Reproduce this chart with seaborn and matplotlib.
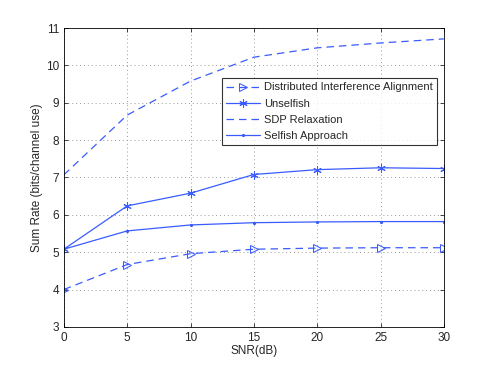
import matplotlib
matplotlib.use("Agg")
import matplotlib.pyplot as plt
import seaborn as sns
import pandas as pd

snr = [0, 5, 10, 15, 20, 25, 30]
dia = [4.00, 4.67, 4.96, 5.08, 5.11, 5.12, 5.12]
unselfish = [5.08, 6.24, 6.58, 7.08, 7.21, 7.26, 7.24]
sdp = [7.07, 8.67, 9.58, 10.22, 10.47, 10.60, 10.71]
selfish = [5.08, 5.57, 5.73, 5.79, 5.81, 5.82, 5.82]

labels = ["Distributed Interference Alignment", "Unselfish",
          "SDP Relaxation", "Selfish Approach"]

df = pd.DataFrame({"snr": snr, labels[0]: dia, labels[1]: unselfish,
                   labels[2]: sdp, labels[3]: selfish})

sns.set_style("white")
plt.rcParams["font.family"] = ["Liberation Sans", "DejaVu Sans"]

blue = "#3a5cff"
styles = {
    labels[0]: dict(linestyle=(0, (6, 4)), marker=">", markersize=6,
                    markerfacecolor="none", markeredgecolor=blue),
    labels[1]: dict(linestyle="-", marker=(6, 2, 0), markersize=6,
                    markeredgecolor=blue),
    labels[2]: dict(linestyle=(0, (6, 4)), marker=None),
    labels[3]: dict(linestyle="-", marker=".", markersize=3,
                    markeredgecolor=blue),
}

fig = plt.figure(figsize=(4.91, 3.69), dpi=100)
ax = fig.add_axes([0.130, 0.114, 0.774, 0.810])

for name in labels:
    sns.lineplot(data=df, x="snr", y=name, ax=ax, color=blue, linewidth=0.9,
                 label=name, **styles[name])

ax.set_xlim(0, 30)
ax.set_ylim(3, 11)
ax.set_xticks(range(0, 31, 5))
ax.set_yticks(range(3, 12))
ax.grid(True, linestyle=(0, (1, 3)), color="#999999", linewidth=0.7)
ax.tick_params(direction="in", length=3, labelsize=8.5, width=0.6,
               top=True, right=True, bottom=True, left=True)
for s in ax.spines.values():
    s.set_visible(True)
    s.set_color("black")
    s.set_linewidth(0.6)
ax.set_xlabel("SNR(dB)", fontsize=8.5, labelpad=1)
ax.set_ylabel("Sum Rate (bits/channel use)", fontsize=8.5, labelpad=2)

leg = ax.legend(loc="upper right", bbox_to_anchor=(0.983, 0.833),
                fontsize=8, frameon=True, fancybox=False,
                borderpad=0.4, labelspacing=0.55, handlelength=3.0,
                handletextpad=0.4, borderaxespad=0)
leg.get_frame().set_edgecolor("black")
leg.get_frame().set_linewidth(0.8)

plt.savefig("out.png", dpi=100)
plt.close()
